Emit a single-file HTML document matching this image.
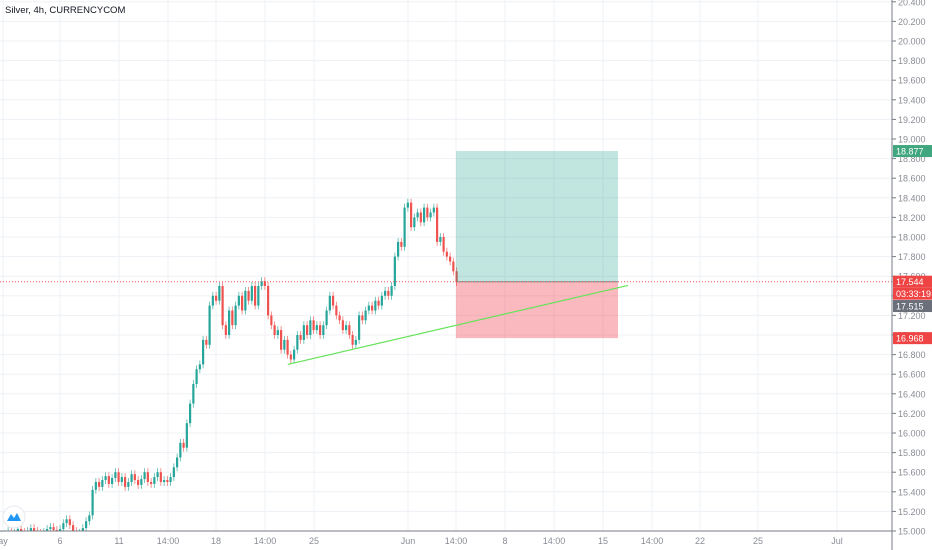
<!DOCTYPE html>
<html><head><meta charset="utf-8"><style>
body{margin:0;background:#fff;font-family:"Liberation Sans",sans-serif}
svg{display:block}
</style></head><body>
<svg id="chart" width="932" height="550" xmlns="http://www.w3.org/2000/svg">
<g id="grid"></g>
<g id="candles"></g>
<g id="tools"></g>
<g id="axes"></g>
</svg>
<script>
const closes=[14.95,14.97,15.0,14.96,14.98,15.02,14.99,14.97,15.0,15.03,15.0,14.98,14.96,14.99,15.02,15.04,15.01,14.98,
15.02,15.08,15.12,15.06,15.0,14.96,14.98,15.03,
15.1,15.16,15.42,
15.5,15.45,15.52,15.56,15.48,15.54,15.6,15.5,
15.55,15.45,15.5,15.58,15.52,15.47,15.53,15.6,15.5,15.48,15.55,15.6,15.5,15.52,
15.5,15.55,15.65,
15.75,15.9,15.85,16.1,16.3,16.5,16.65,
16.7,16.95,16.9,
17.3,17.4,17.35,17.5,
17.1,
17.0,17.25,17.1,17.3,17.4,17.25,17.45,17.35,17.5,17.3,17.5,17.55,
17.5,17.2,17.1,17.0,17.05,16.85,16.95,16.8,16.75,16.85,17.0,16.95,
17.1,17.0,17.15,17.05,17.1,17.0,17.1,17.25,17.4,17.3,
17.2,17.15,17.05,17.1,17.0,16.9,16.95,17.2,17.15,17.25,17.3,
17.25,17.35,17.3,17.4,17.45,17.4,17.5,17.8,
17.95,17.9,18.3,18.35,
18.1,18.2,18.25,18.15,18.3,18.2,18.25,18.3,17.95,
18.0,17.85,17.8,17.75,17.65,17.54];
const priceTicks=[15.0,15.2,15.4,15.6,15.8,16.0,16.2,16.4,16.6,16.8,17.0,17.2,17.4,17.6,17.8,18.0,18.2,18.4,18.6,18.8,19.0,19.2,19.4,19.6,19.8,20.0,20.2,20.4];
const timeLabels=["ay","6","11","14:00","18","14:00","25","Jun","14:00","8","14:00","15","14:00","22","25","Jul"];
const timeLabelX=[3,60,119,168,216,265,314,408,456,505,554,603,652,700,758,837];
const entry=17.544, target=18.877, stop=16.968, lastPrice=17.515;
const trendStart=[95,16.70], trendEnd=[200,17.506];

const NS="http://www.w3.org/2000/svg";
const AX=892;
const y=p=>531-(p-15)*98;
const xi=i=>i*3.25;
const xt=t=>t*3.25;
function mk(tag,attrs,parent){const e=document.createElementNS(NS,tag);for(const k in attrs)e.setAttribute(k,attrs[k]);parent.appendChild(e);return e;}
const grid=document.getElementById('grid'),cg=document.getElementById('candles'),tg=document.getElementById('tools'),ag=document.getElementById('axes');
priceTicks.forEach(p=>{const l=mk('line',{x1:0,x2:AX,y1:y(p),y2:y(p),stroke:'#eef1f6','stroke-width':1},grid);

});
timeLabelX.forEach(x=>{const l=mk('line',{x1:x,x2:x,y1:0,y2:531,stroke:'#eef1f6','stroke-width':1},grid);

});
closes.forEach((c,i)=>{
 const o=i?closes[i-1]:c; const up=c>=o; const col=up?'#26a69a':'#ef5350';
 const hi=Math.max(o,c)+0.04, lo=Math.min(o,c)-0.04;
 const x=xi(i)+1.6;
 const w=mk('line',{x1:x,x2:x,y1:y(hi),y2:Math.min(531,y(lo)),stroke:col,'stroke-width':0.8,'stroke-opacity':0.8},cg);
 
 
 const top=y(Math.max(o,c)), h=Math.max(1,Math.abs(y(o)-y(c)));
 if(top<531){const b=mk('rect',{x:x-1.1,y:top,width:2.2,height:Math.min(h,531-top),fill:col},cg);
 
 }
});
const rx=456,rw=162;
let r=mk('rect',{x:rx,y:y(target),width:rw,height:y(entry)-y(target),fill:'rgba(8,153,129,0.25)'},tg);


r=mk('rect',{x:rx,y:y(entry),width:rw,height:y(stop)-y(entry),fill:'rgba(242,54,69,0.35)'},tg);


let l=mk('line',{x1:rx,x2:rx+rw,y1:y(entry),y2:y(entry),stroke:'#7b8a8b','stroke-width':1},tg);


l=mk('line',{x1:0,x2:AX,y1:y(entry),y2:y(entry),stroke:'#ef5350','stroke-width':1,'stroke-dasharray':'1 2'},tg);


l=mk('line',{x1:xt(trendStart[0])-21,x2:xt(trendEnd[0])-22,y1:y(trendStart[1]),y2:y(trendEnd[1]),stroke:'#66e35a','stroke-width':1.2},tg);


l=mk('line',{x1:AX,x2:AX,y1:0,y2:550,stroke:'#787b86','stroke-width':1},ag);


l=mk('line',{x1:0,x2:AX,y1:531,y2:531,stroke:'#787b86','stroke-width':1},ag);


priceTicks.forEach(p=>{
 const tk=mk('line',{x1:AX,x2:AX+4,y1:y(p),y2:y(p),stroke:'#787b86'},ag);
 
 
 const t=mk('text',{x:AX+6,y:y(p)+3.5,'font-size':9,fill:'#8a8d96'},ag);t.textContent=p.toFixed(3);
 
 
});
timeLabels.forEach((s,i)=>{const t=mk('text',{x:timeLabelX[i],y:544,'font-size':9,fill:'#8a8d96','text-anchor':'middle'},ag);t.textContent=s;
 
 });
function badge(val,txt,color,dy,name){
 const g=mk('g',{},ag);
 
 
 mk('rect',{x:AX+1,y:y(val)-6+dy,width:39,height:12,fill:color},g);
 const t=mk('text',{x:AX+4,y:y(val)+3.5+dy,'font-size':9,fill:'#fff'},g);t.textContent=txt;
}
badge(target,target.toFixed(3),'#3fa67f',0,'target-price-label');
badge(entry,entry.toFixed(3),'#ef4444',0,'current-price-label');
badge(entry,'03:33:19','#ef4444',12,'countdown-label');
badge(lastPrice,lastPrice.toFixed(3),'#6b6f7a',21.5,'last-price-label');
badge(stop,stop.toFixed(3),'#ef4444',0,'stop-price-label');
const title=mk('text',{x:5,y:13,'font-size':9.5,fill:'#131722'},ag);title.textContent='Silver, 4h, CURRENCYCOM';


const logo=mk('g',{},ag);


mk('circle',{cx:14,cy:517,r:11,fill:'#fff',stroke:'#e6e9ef'},logo);
mk('path',{d:'M7 521 L11 514 L14 518 L17 513 L21 521 Z',fill:'#2196f3'},logo);
</script>
</body></html>
